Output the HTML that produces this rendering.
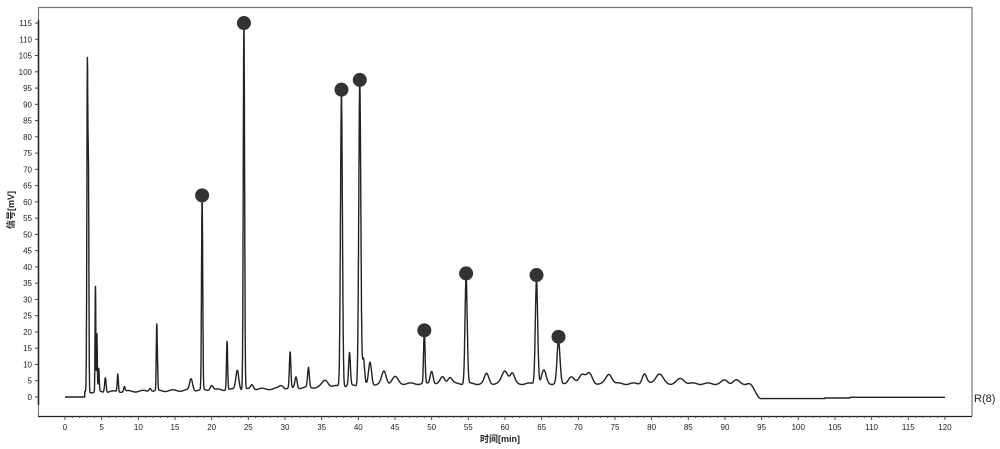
<!DOCTYPE html>
<html><head><meta charset="utf-8"><style>
html,body{margin:0;padding:0;background:#fff;width:1000px;height:449px;overflow:hidden}
svg{display:block}
text{font-family:"Liberation Sans","Noto Sans CJK SC",sans-serif;fill:#222}
</style></head><body>
<svg id="s" width="1000" height="449" xmlns="http://www.w3.org/2000/svg">
<rect x="0" y="0" width="1000" height="449" fill="#fff"/>
<path d="M38.5 416 V7.5 H972 V416" fill="none" stroke="#777" stroke-width="1.2"/>
<line x1="38" y1="416.5" x2="972" y2="416.5" stroke="#222" stroke-width="1.3"/>
<line x1="38.5" y1="20" x2="38.5" y2="405" stroke="#222" stroke-width="1.5"/>
<g id="ax"></g>
<text x="14" y="210" font-size="9" font-weight="bold" transform="rotate(-90 14 210)" text-anchor="middle">信号[mV]</text>
<text x="500" y="442" font-size="9" font-weight="bold" text-anchor="middle">时间[min]</text>
<text x="974" y="402" font-size="11">R(8)</text>
<path id="tr" fill="none" stroke="#222" stroke-width="1.4" stroke-linejoin="round"/>
<g id="mk" fill="#333"></g>
</svg>
<script>
var X=function(t){return 65+t*7.333},Y=function(v){return 397-v*3.252};
var ax=document.getElementById('ax'),h='';
for(var v=0;v<=115;v+=5){var y=Y(v);h+='<line x1="35" y1="'+y+'" x2="38" y2="'+y+'" stroke="#444"/><text x="32" y="'+(y+3)+'" font-size="8" text-anchor="end">'+v+'</text>';}
for(var t=0;t<=120;t++){var x=X(t);h+='<line x1="'+x+'" y1="416" x2="'+x+'" y2="'+(t%5?418:420)+'" stroke="#444"/>';if(t%5==0)h+='<text x="'+x+'" y="430" font-size="8" text-anchor="middle">'+t+'</text>';}
ax.innerHTML=h;
var P=[[3.05,100,.07],[3.2,60,.06],[4.15,33,.05],[4.35,18,.05],[4.6,7,.07],[5.5,4.5,.1],[7.2,5.5,.08],[8.1,1.5,.1],[11.6,1,.15],[12.5,18,.06],[12.6,8,.06],[17.2,3.5,.2],[18.7,59,.08],[20,1.5,.2],[22.1,15,.08],[23.5,6,.2],[24.4,112,.09],[25.5,1.5,.2],[29.5,1,.3],[30.7,11,.1],[31.5,3.5,.15],[33.2,6,.12],[35.5,2,.4],[37.7,90,.13],[38.8,10,.12],[40.2,93,.14],[40.7,8,.15],[41.6,7,.2],[43.5,4,.3],[45,2,.4],[49,16,.1],[50,4,.2],[51.5,2,.3],[52.5,2,.3],[54.7,33,.15],[57.5,3,.3],[60,4,.4],[61,3,.3],[64.3,32,.16],[65.3,4,.3],[67.3,13,.2],[69,2,.4],[70.5,3,.4],[71.5,3,.4],[74.2,3,.4],[79,3,.3],[81,3,.5],[84,1.5,.5],[90,1,.4],[91.5,1,.4]];
function base(t){if(t<2.7)return 0;var b;
if(t<30)b=1.5+(t-2.7)*0.04;else if(t<45)b=2.6+(t-30)*0.1;else b=4.1;
if(t>93.3){var f=Math.min(1,(t-93.3)/1.6);f=f*f*(3-2*f);b=b*(1-f)-0.5*f;}
if(t>103.6)b=-0.3;if(t>107)b=-0.1;return b;}
var d='';for(var t=0;t<=120;t+=0.02){var v=base(t);if(t>2.7)v+=0.25*Math.sin(t*3.1)*(t<93?1:0);
for(var i=0;i<P.length;i++){var p=P[i],z=(t-p[0])/p[2];if(Math.abs(z)<6)v+=p[1]*Math.exp(-z*z/2);}
d+=(d?'L':'M')+X(t).toFixed(1)+' '+Y(v).toFixed(1);}
document.getElementById('tr').setAttribute('d',d);
var M=[[18.7,62],[24.4,115],[37.7,94.5],[40.2,97.5],[49,20.5],[54.7,38],[64.3,37.5],[67.3,18.5]],m='';
M.forEach(function(a){m+='<circle cx="'+X(a[0])+'" cy="'+Y(a[1])+'" r="7"/>';});
document.getElementById('mk').innerHTML=m;
</script>
</body></html>
